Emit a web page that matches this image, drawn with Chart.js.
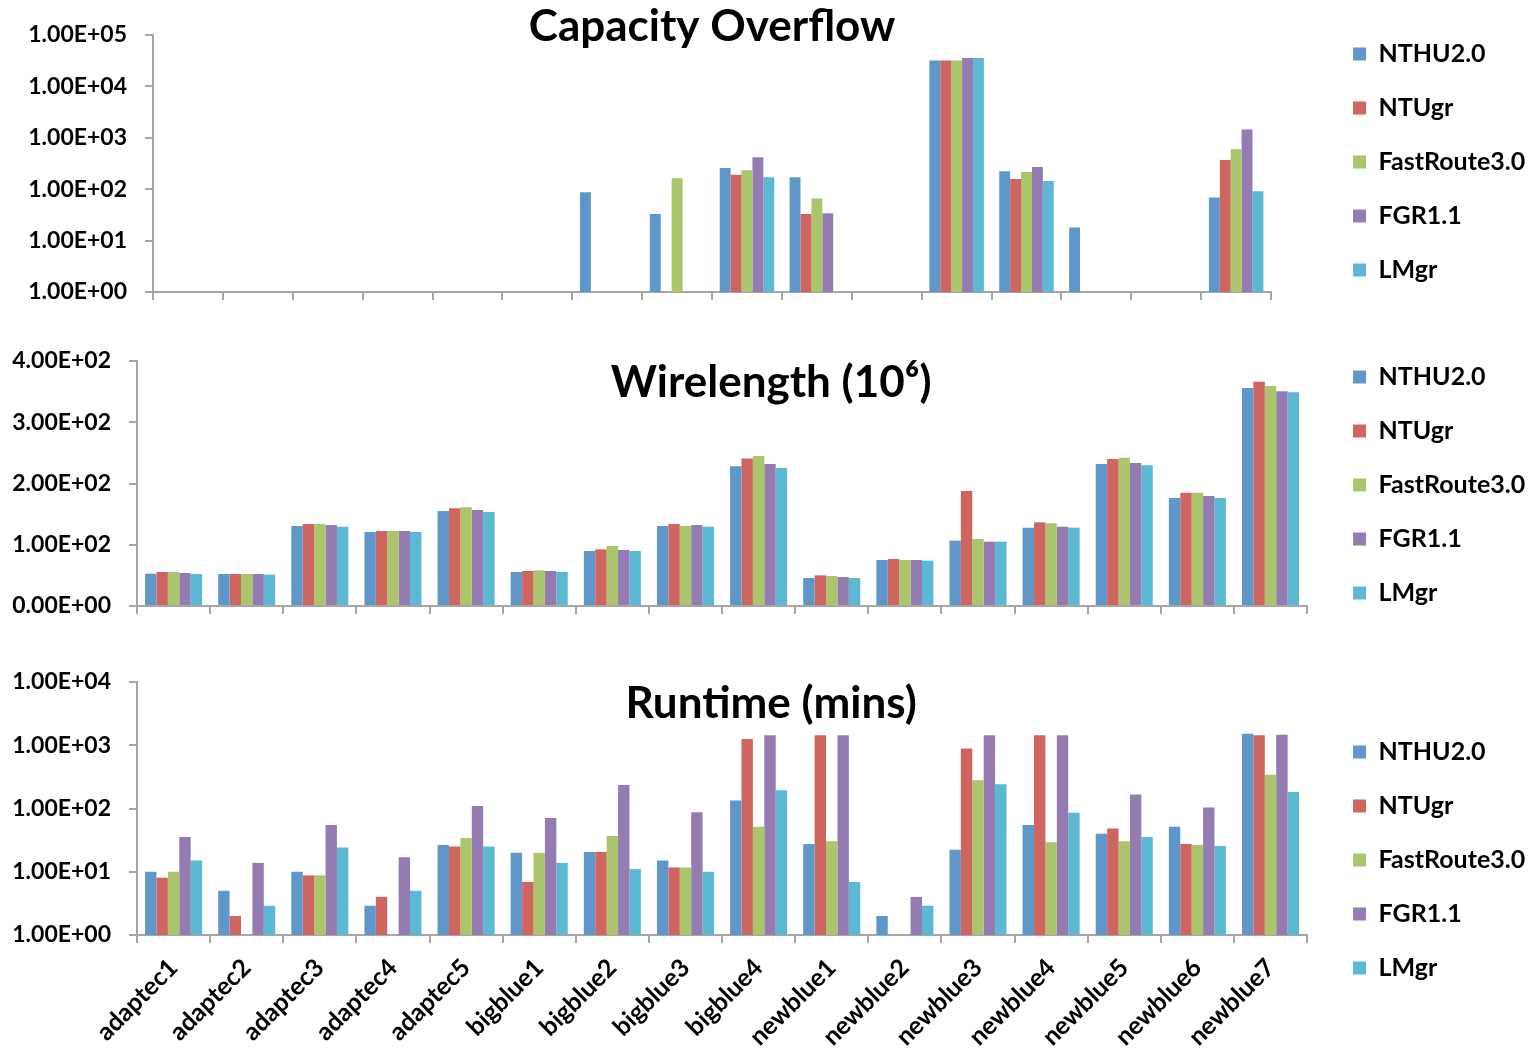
<!DOCTYPE html>
<html>
<head>
<meta charset="utf-8">
<title>Global router comparison</title>
<script src="https://cdn.jsdelivr.net/npm/chart.js@4.4.1/dist/chart.umd.min.js"></script>
<style>
  html, body { margin: 0; padding: 0; background: #fff; overflow: hidden; }
  body { width: 1534px; height: 1048px; position: relative; }
  canvas { position: absolute; }
</style>
</head>
<body>
<canvas id="overflowChart" width="1554" height="324" style="left:0px; top:0px"></canvas>
<canvas id="wireChart" width="1554" height="314" style="left:7px; top:328px"></canvas>
<canvas id="runtimeChart" width="1554" height="422" style="left:7px; top:649px"></canvas>
<script>
"use strict"

const benchmarks = ["adaptec1", "adaptec2", "adaptec3", "adaptec4", "adaptec5", "bigblue1", "bigblue2", "bigblue3",
    "bigblue4", "newblue1", "newblue2", "newblue3", "newblue4", "newblue5", "newblue6", "newblue7"];
const routers = ["NTHU2.0", "NTUgr", "FastRoute3.0", "FGR1.1", "LMgr"];
const routerColors = ["#6097CA", "#CF655F", "#AAC56C", "#947CB3", "#5BB9D3"];

// capacity overflow (null = zero overflow, nothing drawn on the log axis)
const overflowNTHU = [null, null, null, null, null, null, 87, 33, 258, 170, null, 32000, 223, 18, null, 69];
const overflowNTUgr = [null, null, null, null, null, null, null, null, 190, 33, null, 32000, 158, null, null, 370];
const overflowFastRoute = [null, null, null, null, null, null, null, 163, 234, 66, null, 32000, 215, null, null, 600];
const overflowFGR = [null, null, null, null, null, null, null, null, 417, 34, null, 35500, 270, null, null, 1450];
const overflowLMgr = [null, null, null, null, null, null, null, null, 170, null, null, 35500, 144, null, null, 91];

// wirelength in 10^6
const wireNTHU = [52.8, 52.2, 130.6, 120.8, 155.1, 55.5, 89.8, 130.6, 228, 45.7, 75.1, 106.7, 127.9, 231.8, 176.3, 355.9];
const wireNTUgr = [55.5, 52.2, 133.9, 122.4, 159.5, 57.1, 92.5, 133.9, 241, 50.1, 76.7, 187.8, 136.6, 240, 185, 366.3];
const wireFastRoute = [55.5, 52.2, 133.9, 122.4, 161.1, 58.2, 98, 130.6, 244.9, 49, 75.1, 109.4, 135, 242.2, 185, 359.2];
const wireFGR = [53.9, 52.2, 132.2, 122.4, 156.7, 57.1, 91.4, 132.2, 231.8, 47.3, 75.1, 105, 129.5, 233.5, 179.6, 350.5];
const wireLMgr = [52.2, 51.2, 129.5, 120.8, 153.5, 55.5, 89.8, 129.5, 225.3, 45.7, 74, 105, 127.9, 229.7, 176.3, 348.8];

// runtime in minutes
const runtimeNTHU = [10, 5, 10, 2.9, 26.5, 19.9, 20.6, 15.1, 134, 27.5, 2, 22.2, 54.7, 40, 51.5, 1520];
const runtimeNTUgr = [8.05, 2, 8.75, 4, 25, 6.9, 20.6, 11.7, 1260, 1440, null, 887, 1440, 48.5, 27.5, 1440];
const runtimeFastRoute = [10, null, 8.75, null, 34.2, 19.9, 36.8, 11.7, 51.5, 30.3, null, 279, 29.2, 30.3, 26.5, 342];
const runtimeFGR = [35.5, 13.8, 54.7, 17, 110, 70.5, 235, 87.6, 1440, 1440, 4, 1440, 1440, 166, 104, 1460];
const runtimeLMgr = [15.1, 2.9, 24.1, 5, 25, 13.8, 11, 10, 194, 6.9, 2.9, 241, 85.5, 35.5, 25.6, 183];

const overflowTicks = [1, 10, 100, 1000, 10000, 100000];
const overflowTickLabels = ["1.00E+00", "1.00E+01", "1.00E+02", "1.00E+03", "1.00E+04", "1.00E+05"];
const wireTicks = [0, 100, 200, 300, 400];
const wireTickLabels = ["0.00E+00", "1.00E+02", "2.00E+02", "3.00E+02", "4.00E+02"];
const runtimeTicks = [1, 10, 100, 1000, 10000];
const runtimeTickLabels = ["1.00E+00", "1.00E+01", "1.00E+02", "1.00E+03", "1.00E+04"];

const axisGrey = "#a6a6a6";
const boldFont = (size) => ({ family: "Lato", size: size, weight: "bold" });

function yAxis(type, min, max, tickValues, tickLabels, width) {
    return {
        type: type,
        min: min,
        max: max,
        afterBuildTicks: (s) => { s.ticks = tickValues.map(v => ({ value: v })); },
        afterFit: (s) => { s.width = width; },
        grid: { drawOnChartArea: false, tickLength: 8, color: axisGrey, lineWidth: 2 },
        border: { color: axisGrey, width: 2 },
        ticks: { padding: 18, color: "#000", font: boldFont(23), callback: (v, i) => tickLabels[i] }
    };
}

function makeChart(canvasId, title, series, yScale, setup) {
    const datasets = [];
    for (let i = 0; i < routers.length; i++) {
        datasets.push({
            label: routers[i],
            data: series[i],
            backgroundColor: routerColors[i],
            borderWidth: 0,
            yAxisID: "y",
            categoryPercentage: 0.78,
            barPercentage: 1
        });
    }

    const config = {
        type: "bar",
        data: { labels: benchmarks, datasets: datasets },
        options: {
            responsive: false,
            animation: false,
            layout: { padding: { left: 0, top: 0, bottom: 0, right: setup.padRight } },
            plugins: {
                title: {
                    display: true,
                    text: title,
                    fullSize: setup.titleFull,
                    color: "#000",
                    font: boldFont(44),
                    padding: { top: setup.titleTop, bottom: setup.titleBottom }
                },
                legend: {
                    position: "right",
                    align: "center",
                    labels: { boxWidth: 13, boxHeight: 13, padding: 29, color: "#000", font: boldFont(25) }
                },
                tooltip: { enabled: false }
            },
            scales: {
                x: {
                    grid: { offset: true, drawOnChartArea: false, tickLength: 8, color: axisGrey, lineWidth: 2 },
                    border: { color: axisGrey, width: 2 },
                    ticks: {
                        display: setup.showNames, autoSkip: false, minRotation: 45, maxRotation: 45,
                        padding: 10, color: "#000", font: boldFont(25)
                    },
                    afterFit: (s) => { s.height = setup.xHeight; }
                },
                y: yScale,
                yr: {
                    position: "right",
                    display: true,
                    grid: { display: false },
                    border: { display: false },
                    ticks: { display: false },
                    afterFit: (s) => { s.width = setup.gapRight; }
                }
            }
        }
    };
    return new Chart(document.getElementById(canvasId), config);
}

makeChart("overflowChart", "Capacity Overflow",
    [overflowNTHU, overflowNTUgr, overflowFastRoute, overflowFGR, overflowLMgr],
    yAxis("logarithmic", 1, 100000, overflowTicks, overflowTickLabels, 153),
    { titleFull: false, titleTop: 0.6, titleBottom: -18.4, showNames: false, xHeight: 32, gapRight: 53, padRight: 18.8 });

makeChart("wireChart", "Wirelength (10\u2076)",
    [wireNTHU, wireNTUgr, wireFastRoute, wireFGR, wireLMgr],
    yAxis("linear", 0, 400, wireTicks, wireTickLabels, 130),
    { titleFull: true, titleTop: 28.6, titleBottom: -48.4, showNames: false, xHeight: 36, gapRight: 17, padRight: 25.8 });

makeChart("runtimeChart", "Runtime (mins)",
    [runtimeNTHU, runtimeNTUgr, runtimeFastRoute, runtimeFGR, runtimeLMgr],
    yAxis("logarithmic", 1, 10000, runtimeTicks, runtimeTickLabels, 130),
    { titleFull: true, titleTop: 28.6, titleBottom: -48.4, showNames: true, xHeight: 136, gapRight: 17, padRight: 25.8 });
</script>
</body>
</html>
